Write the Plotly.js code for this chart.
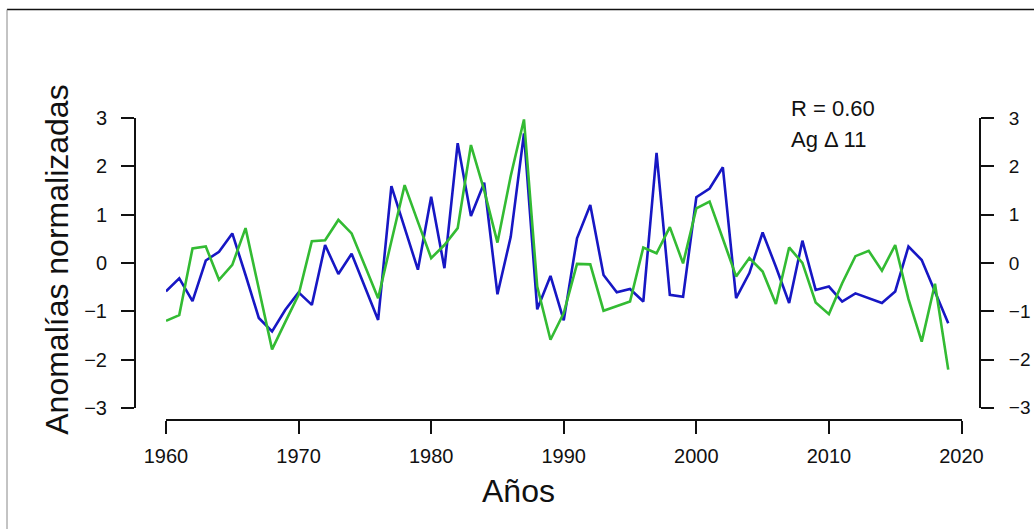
<!DOCTYPE html>
<html>
<head>
<meta charset="utf-8">
<script src="https://cdn.plot.ly/plotly-3.0.1.min.js"></script>
<style>
  html, body { margin: 0; padding: 0; background: #fff; }
  #chart { width: 1034px; height: 529px; }
</style>
</head>
<body>
<div id="chart"></div>
<script>
// ---- data ----
const years = [];
for (let y = 1960; y <= 2019; y++) years.push(y);

const serieAzul = [
  -0.59, -0.32, -0.79, 0.05, 0.23, 0.61, -0.25, -1.14, -1.42, -0.97,
  -0.61, -0.87, 0.37, -0.23, 0.19, -0.50, -1.18, 1.59, 0.72, -0.14,
  1.37, -0.11, 2.48, 0.97, 1.66, -0.65, 0.54, 2.68, -0.96, -0.27,
  -1.19, 0.51, 1.20, -0.25, -0.61, -0.54, -0.80, 2.28, -0.66, -0.70,
  1.36, 1.54, 1.98, -0.73, -0.21, 0.63, -0.08, -0.83, 0.46, -0.56,
  -0.49, -0.80, -0.63, -0.73, -0.83, -0.59, 0.34, 0.06, -0.59, -1.25
];

const serieVerde = [
  -1.20, -1.08, 0.30, 0.34, -0.35, -0.04, 0.72, -0.53, -1.79, -1.22,
  -0.66, 0.45, 0.47, 0.89, 0.61, -0.06, -0.73, 0.45, 1.61, 0.85,
  0.10, 0.37, 0.72, 2.44, 1.50, 0.42, 1.80, 2.97, -0.49, -1.59,
  -1.04, -0.02, -0.03, -0.99, -0.90, -0.80, 0.32, 0.20, 0.74, -0.01,
  1.13, 1.27, 0.50, -0.28, 0.10, -0.18, -0.85, 0.32, 0.00, -0.82,
  -1.06, -0.42, 0.14, 0.25, -0.16, 0.37, -0.75, -1.63, -0.43, -2.21
];

const xTicks = [1960, 1970, 1980, 1990, 2000, 2010, 2020];
const yTicks = [-3, -2, -1, 0, 1, 2, 3];
const textoR = "R = 0.60";
const textoAg = "Ag \u0394 11";
const tituloX = "Años";
const tituloY = "Anomalías normalizadas";

// ---- layout geometry ----
const W = 1034, H = 529;
const L = 135, R = 54, T = 118, B = 108.5;
const pw = W - L - R, ph = H - T - B;
const px = x => (x - L) / pw;          // pixel x -> paper x
const py = y => (H - B - y) / ph;      // pixel y -> paper y

const FONT = "Liberation Sans, Arial, Helvetica, sans-serif";

const traces = [
  { x: years, y: serieAzul, type: "scatter", mode: "lines",
    line: { color: "#1717c4", width: 2.6 }, xaxis: "x", yaxis: "y",
    hoverinfo: "skip", showlegend: false },
  { x: years, y: serieVerde, type: "scatter", mode: "lines",
    line: { color: "#33bb33", width: 2.6 }, xaxis: "x", yaxis: "y",
    hoverinfo: "skip", showlegend: false }
];

const axisCommon = {
  showgrid: false, zeroline: false, showline: true,
  linecolor: "#111", linewidth: 2,
  ticks: "outside", ticklen: 13, tickwidth: 2, tickcolor: "#111",
  tickfont: { family: FONT, size: 20, color: "#111" },
  automargin: false, fixedrange: true
};

const layout = {
  width: W, height: H,
  margin: { l: L, r: R, t: T, b: B, pad: 0 },
  paper_bgcolor: "#fff", plot_bgcolor: "rgba(0,0,0,0)",
  showlegend: false,
  xaxis: Object.assign({}, axisCommon, {
    domain: [px(166), px(961.5)],
    range: [1960, 2020],
    tickvals: xTicks, ticktext: xTicks.map(String),
    anchor: "free", position: 0,
    ticklabelstandoff: 5
  }),
  yaxis: Object.assign({}, axisCommon, {
    domain: [py(408.3), 1],
    range: [-3, 3],
    tickvals: yTicks,
    anchor: "free", position: 0,
    ticklabelstandoff: 10
  }),
  yaxis2: Object.assign({}, axisCommon, {
    overlaying: "y", side: "right",
    range: [-3, 3],
    tickvals: yTicks,
    tickfont: { family: FONT, size: 19, color: "#111" },
    anchor: "free", position: 1,
    ticklabelstandoff: 11
  }),
  annotations: [
    { text: textoR, xref: "paper", yref: "paper", x: px(789), y: py(108),
      xanchor: "left", yanchor: "middle", showarrow: false,
      font: { family: FONT, size: 22, color: "#111" } },
    { text: textoAg, xref: "paper", yref: "paper", x: px(789), y: py(140),
      xanchor: "left", yanchor: "middle", showarrow: false,
      font: { family: FONT, size: 22, color: "#111" } },
    { text: tituloX, xref: "paper", yref: "paper", x: px(518), y: py(492),
      xanchor: "center", yanchor: "middle", showarrow: false,
      font: { family: FONT, size: 32, color: "#111" } },
    { text: tituloY, xref: "paper", yref: "paper", x: px(57), y: py(260),
      xanchor: "center", yanchor: "middle", showarrow: false, textangle: -90,
      font: { family: FONT, size: 32, color: "#111" } }
  ],
  shapes: [
    { type: "line", xref: "paper", yref: "paper",
      x0: px(7), x1: px(1040), y0: py(9.3), y1: py(9.3),
      line: { color: "#111", width: 1.6 } },
    { type: "line", xref: "paper", yref: "paper",
      x0: px(7), x1: px(7), y0: py(9.3), y1: py(540),
      line: { color: "#888", width: 1 } }
  ]
};

// placeholder trace so the right-hand axis (y2) is drawn
traces.push({ x: [years[0]], y: [null], type: "scatter", mode: "lines",
  xaxis: "x", yaxis: "y2", hoverinfo: "skip", showlegend: false });

Plotly.newPlot("chart", traces, layout, { staticPlot: true, displayModeBar: false });
</script>
</body>
</html>
